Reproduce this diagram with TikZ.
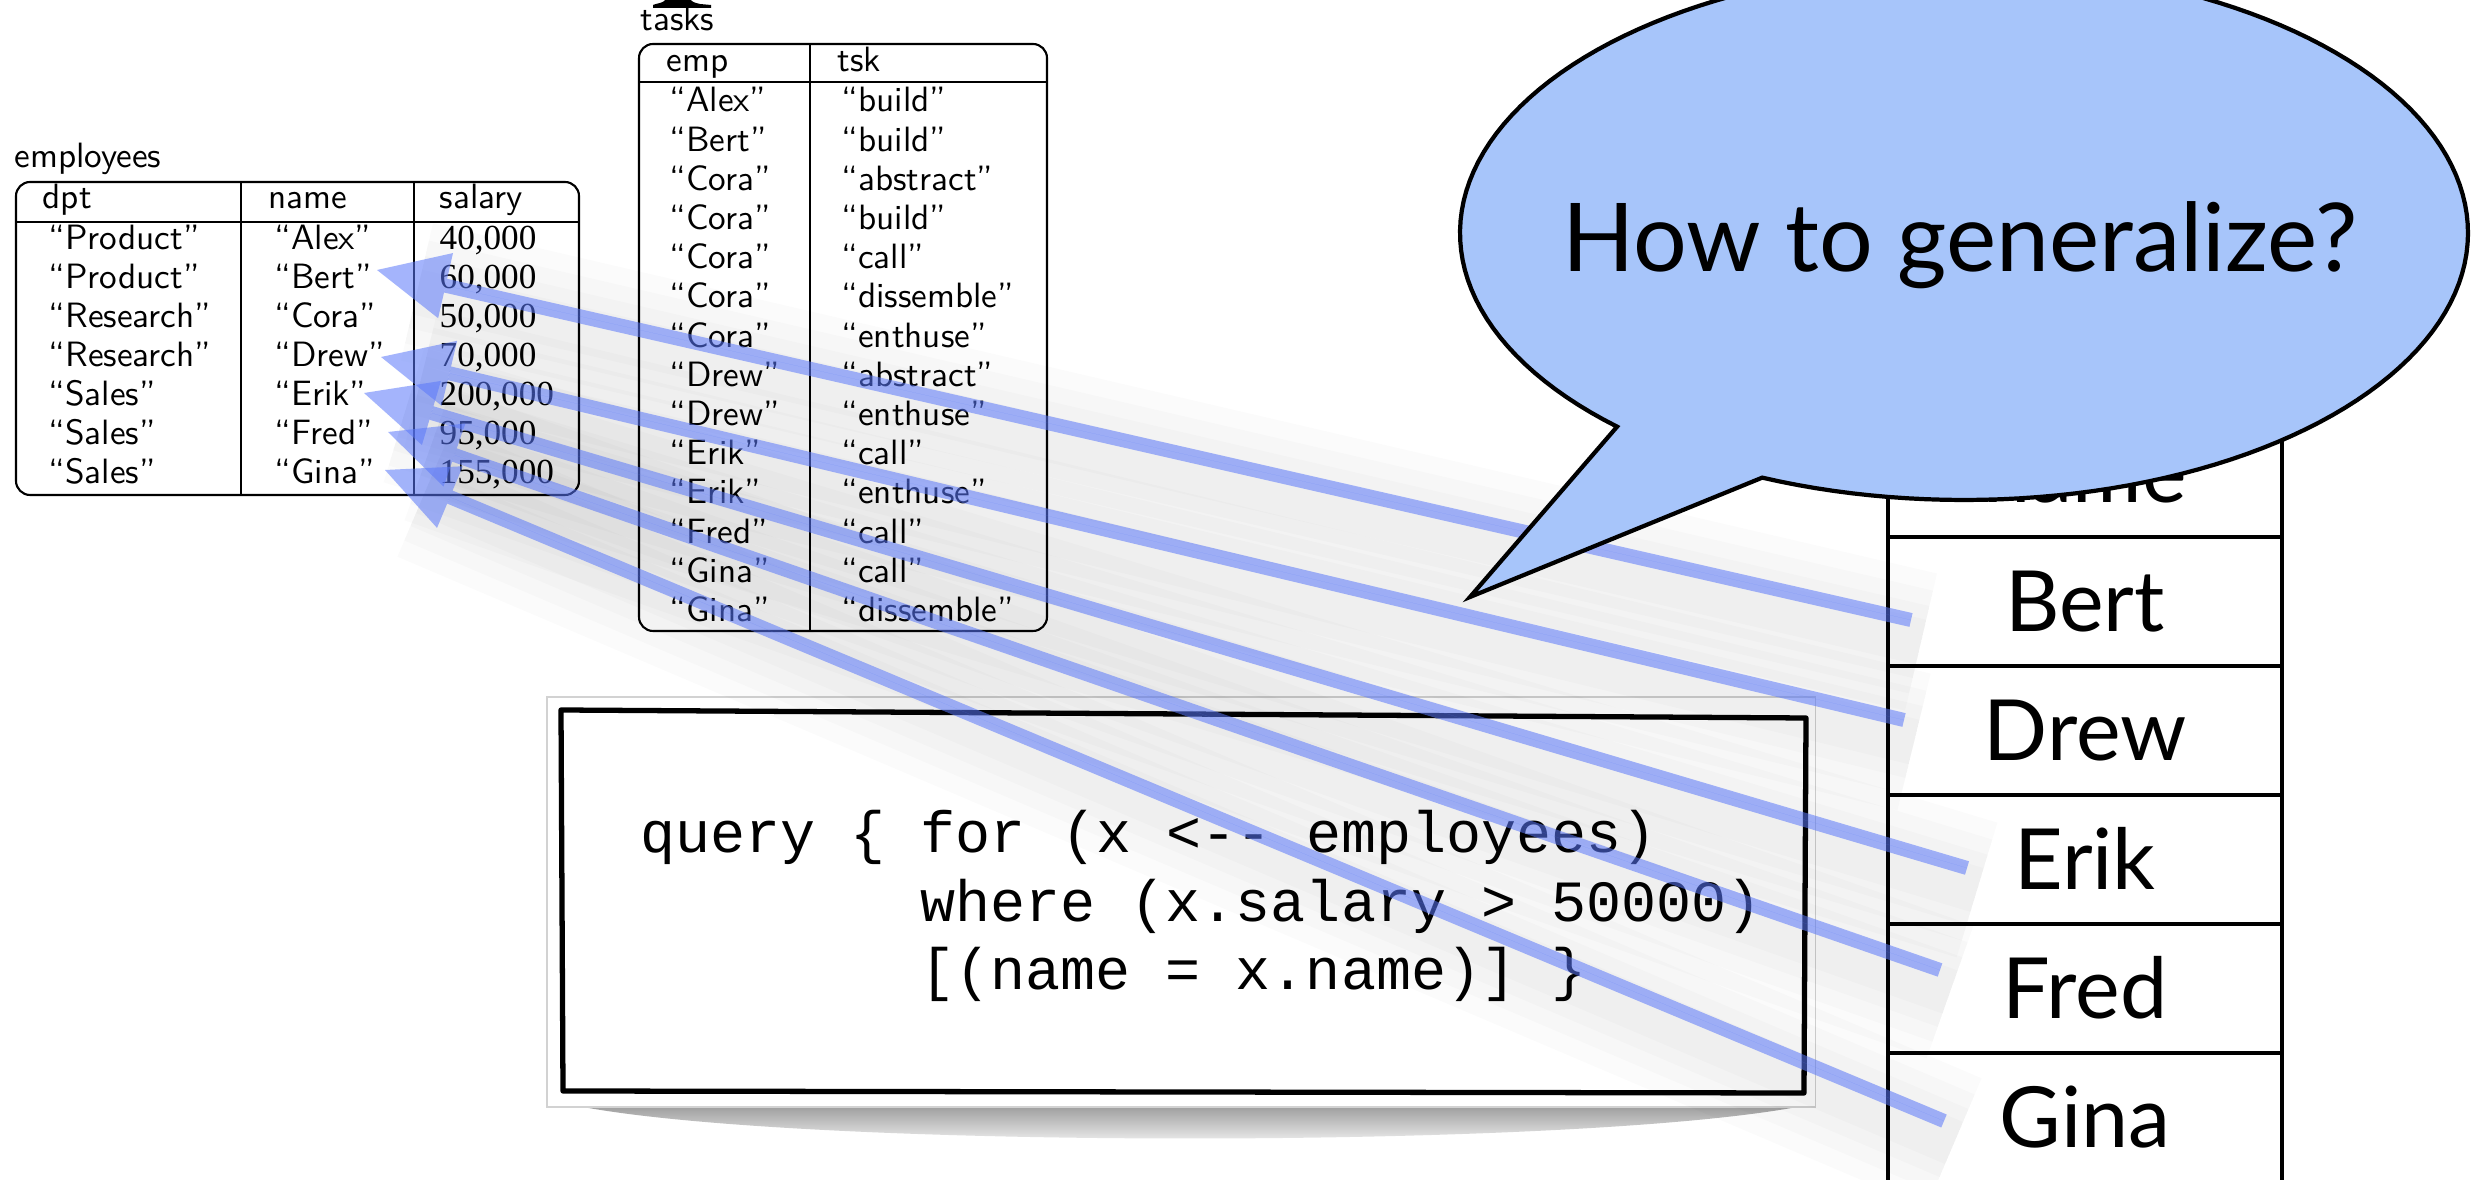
\documentclass[tikz,border=0pt]{standalone}
\usepackage{fontspec}
\newfontfamily\latofont{Lato}
\newfontfamily\tnrfont{Liberation Serif}
\newfontfamily\codefont{Liberation Mono}
\usetikzlibrary{arrows.meta,calc}
\definecolor{bubblefill}{RGB}{167,197,250}
\definecolor{linkblue}{RGB}{90,120,250}
\begin{document}
\begin{tikzpicture}[x=0.01cm,y=-0.01cm,
  tblframe/.style={draw=black,line width=0.6pt,rounded corners=4pt},
  tblrule/.style={draw=black,line width=0.6pt},
  txt/.style={font=\sffamily\fontsize{10pt}{12pt}\selectfont,anchor=base west,inner sep=0pt},
  num/.style={font=\tnrfont\fontsize{10pt}{12pt}\selectfont,anchor=base west,inner sep=0pt},
  rcell/.style={draw=black,line width=1.1pt,minimum width=3.94cm,minimum height=1.29cm,inner sep=0pt,font=\latofont\fontsize{24pt}{28pt}\selectfont,text height=17.3pt,text depth=0pt},
  codeline/.style={font=\codefont\fontsize{16.6pt}{20pt}\selectfont,anchor=base west,inner sep=0pt},
  link/.style={draw=linkblue,fill=linkblue,opacity=0.55,line width=4pt,-{Triangle[length=20pt,width=19pt,line width=0pt]}},
  linkshadow/.style={draw=black,opacity=0.016,line width=#1},
  bubble/.style={fill=bubblefill,draw=black,line width=1.2pt,line join=miter},
  bubbletext/.style={font=\latofont\fontsize{27pt}{32pt}\selectfont,anchor=base,inner sep=0pt}
]
\useasboundingbox (0,0) rectangle (2487,1180);
\fill[white] (0,0) rectangle (2487,1180);

% ---------- employees table ----------
\node[txt] (lblEmp) at (14,168) {employees};
\draw[tblframe] (16,182) rectangle (579,495);
\draw[tblrule] (16,222) -- (579,222) (241,182) -- (241,495) (414,182) -- (414,495);
\node[txt] (hDpt) at (42,209) {dpt};
\node[txt] (hName) at (268,209) {name};
\node[txt] (hSal) at (439,209) {salary};
\foreach \d/\n/\s [count=\i from 0] in {Product/Alex/{40,000},Product/Bert/{60,000},Research/Cora/{50,000},Research/Drew/{70,000},Sales/Erik/{200,000},Sales/Fred/{95,000},Sales/Gina/{155,000}}{
  \pgfmathsetmacro\yy{250+38.9*\i}
  \node[txt] (d\n) at (48,\yy) {“\d”};
  \node[txt] (e\n) at (274,\yy) {“\n”};
  \node[num] (s\n) at (439,\yy) {\s};
}

% ---------- tasks table ----------
\fill[black] (653,8) -- (711,8) -- (711,5) -- (700,4) .. controls (692,2) .. (689,-3) -- (667,-3) .. controls (664,2) .. (656,4) -- (653,5) -- cycle;
\node[txt] (lblTasks) at (640,31) {tasks};
\draw[tblframe] (639,44) rectangle (1047,631);
\draw[tblrule] (639,82) -- (1047,82) (810,44) -- (810,631);
\node[txt] (hEmp) at (666,72) {emp};
\node[txt] (hTsk) at (837,72) {tsk};
\foreach \a/\b [count=\i from 0] in {Alex/build,Bert/build,Cora/abstract,Cora/build,Cora/call,Cora/dissemble,Cora/enthuse,Drew/abstract,Drew/enthuse,Erik/call,Erik/enthuse,Fred/call,Gina/call,Gina/dissemble}{
  \pgfmathsetmacro\yy{112+39.2*\i}
  \node[txt] (te\i) at (669,\yy) {“\a”};
  \node[txt] (tt\i) at (841,\yy) {“\b”};
}

% ---------- code box ----------
\shade[top color=gray!80,bottom color=white] (568,1104) -- (1812,1104) .. controls (1600,1150) and (780,1150) .. (568,1104) -- cycle;
\node[draw=gray!35,fill=white,line width=0.5pt,minimum width=12.68cm,minimum height=4.10cm,inner sep=0pt] (codebox) at (1181,902) {};
\draw[line width=1.5pt,line join=round] (561,710) -- (1806,718) -- (1804,1093) -- (563,1091) -- cycle;
\node[codeline] (code1) at (640,853) {query \{ for (x <-- employees)};
\node[codeline] (code2) at (920,922) {where (x.salary > 50000)};
\node[codeline] (code3) at (920,990) {[(name = x.name)] \}};

% ---------- result table ----------
\node[rcell] (cName) at (2085,472) {name};
\node[rcell] (cBert) at (2085,601.5) {Bert};
\node[rcell] (cDrew) at (2085,730.5) {Drew};
\node[rcell] (cErik) at (2085,859.5) {Erik};
\node[rcell] (cFred) at (2085,988.5) {Fred};
\node[rcell] (cGina) at (2085,1117.5) {Gina};

% ---------- arrows ----------
\coordinate (hBert) at (377,270);  \coordinate (rBert) at (1911,620);
\coordinate (hDrew) at (381,357);  \coordinate (rDrew) at (1904,720);
\coordinate (hErik) at (364,393);  \coordinate (rErik) at (1967,868);
\coordinate (hFred) at (388,432);  \coordinate (rFred) at (1940,970);
\coordinate (hGina) at (385,470);  \coordinate (rGina) at (1944,1121);
\foreach \n in {Bert,Drew,Erik,Fred,Gina}{
  \foreach \w in {40pt,30pt,21pt,13pt}{
    \draw[linkshadow=\w] ($(r\n)+(10,22)$) -- ($(h\n)+(40,22)$);
  }
}
\foreach \n in {Bert,Drew,Erik,Fred,Gina}{
  \draw[link] (r\n) -- (h\n);
}

% ---------- speech bubble ----------
\filldraw[bubble] plot[domain=133.5:473.6,samples=160] ({1964+504*cos(\x)},{233+267*sin(\x)}) -- (1470,597) -- cycle;
\node[bubbletext] (question) at (1960,272) {How to generalize?};
\end{tikzpicture}
\end{document}
